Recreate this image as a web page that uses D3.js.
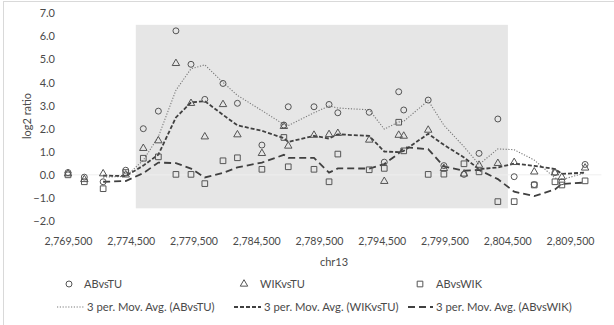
<!DOCTYPE html>
<html>
<head>
<meta charset="utf-8">
<script src="https://cdn.jsdelivr.net/npm/d3@7"></script>
<style>
  html, body { margin: 0; padding: 0; background: #fff; }
  svg { display: block; font-family: Lato, "Open Sans", sans-serif; }
</style>
</head>
<body>
<svg id="chart" width="614" height="325"></svg>
<script>
// Probe positions on chr13 (bp)
const positions = [
  2769500, 2770800, 2772300, 2774100, 2775500, 2776700, 2778100, 2779300,
  2780400, 2781850, 2783000, 2784950, 2786700, 2787050, 2789100, 2790300,
  2791000, 2793500, 2794700, 2795850, 2796250, 2798200, 2799450, 2801050,
  2802250, 2803750, 2805050, 2806650, 2808300, 2808850, 2810700
];

// log2 ratios per comparison
const abVsTu = [
  0.1, -0.1, -0.3, 0.2, 2.0, 2.76, 6.24, 4.79, 3.27, 3.96, 3.1, 1.29,
  2.16, 2.95, 2.95, 3.05, 2.69, 2.71, 0.55, 3.6, 2.81, 3.24, 0.4, 0.02,
  0.93, 2.42, -0.08, -0.42, 0.1, -0.3, 0.45
];
const wikVsTu = [
  0.05, -0.2, 0.05, 0.0, 1.15, 1.48, 4.83, 3.1, 1.65, 3.05, 1.74, 0.93,
  2.1, 1.25, 1.72, 1.75, 1.8, 1.51, -0.28, 1.72, 1.68, 1.94, 0.28, 0.04,
  0.42, 0.5, 0.54, 0.13, 0.09, -0.1, 0.3
];
const abVsWik = [
  0.0, -0.3, -0.6, 0.1, 0.72, 0.78, 0.02, 0.02, -0.38, 0.61, 0.74, 0.24,
  1.62, 0.35, 0.24, -0.3, 0.9, 0.22, 0.28, 2.28, 1.04, 0.02, 0.03, 0.48,
  0.13, -1.16, -1.16, -0.44, -0.3, -0.44, -0.26
];

const seriesNames = ["ABvsTU", "WIKvsTU", "ABvsWIK"];
const xTicks = [2769500, 2774500, 2779500, 2784500, 2789500, 2794500, 2799500, 2804500, 2809500];
const yTicks = [-2, -1, 0, 1, 2, 3, 4, 5, 6, 7];

// Highlighted interval (shaded box)
const regionX = [2774900, 2804550];
const regionY = [-1.45, 6.5];

const movingPeriod = 3;

const svg = d3.select("#chart");
const textColor = "#4a4a4a";
const markColor = "#555555";
const lineDark = "#404040";

const x = d3.scaleLinear().domain([2769500, 2812000]).range([68, 601.4]);
const y = d3.scaleLinear().domain([-2, 7]).range([221, 13.3]);

// chart area border
svg.append("rect")
  .attr("x", 3.5).attr("y", 1.5).attr("width", 640).attr("height", 340)
  .attr("fill", "none").attr("stroke", "#d9d9d9").attr("stroke-width", 1);

// shaded interval
svg.append("rect")
  .attr("x", x(regionX[0])).attr("y", y(regionY[1]))
  .attr("width", x(regionX[1]) - x(regionX[0]))
  .attr("height", y(regionY[0]) - y(regionY[1]))
  .attr("fill", "#e6e6e6");

// horizontal axis line at 0
svg.append("line")
  .attr("x1", x.range()[0]).attr("x2", x.range()[1])
  .attr("y1", y(0)).attr("y2", y(0))
  .attr("stroke", "#efefef").attr("stroke-width", 1);

// y axis labels
const yAxis = d3.axisLeft(y).tickValues(yTicks).tickFormat(d3.format(".1f")).tickSize(0).tickPadding(0);
const gy = svg.append("g").attr("transform", "translate(55,0)").call(yAxis);
gy.select(".domain").remove();
gy.selectAll("text").attr("fill", textColor).style("font-size", "11px").style("font-family", "Lato, sans-serif");

// x axis labels
const xAxis = d3.axisBottom(x).tickValues(xTicks).tickFormat(d3.format(",")).tickSize(0).tickPadding(0);
const gx = svg.append("g").attr("transform", "translate(0,237)").call(xAxis);
gx.select(".domain").remove();
gx.selectAll("text").attr("fill", textColor).style("font-size", "10.6px").style("font-family", "Lato, sans-serif");

// axis titles
svg.append("text")
  .attr("x", 334).attr("y", 266)
  .attr("text-anchor", "middle").attr("fill", textColor)
  .style("font-size", "11px").text("chr13");
svg.append("text")
  .attr("transform", "translate(31,116) rotate(-90)")
  .attr("text-anchor", "middle").attr("fill", textColor)
  .style("font-size", "11px").text("log2 ratio");

// moving averages (trailing window)
function movingAverage(values, n) {
  const out = [];
  for (let i = n - 1; i < values.length; i++) {
    out.push([positions[i], d3.mean(values.slice(i - n + 1, i + 1))]);
  }
  return out;
}

const lineGen = d3.line().x(d => x(d[0])).y(d => y(d[1]));

const trendStyles = [
  { values: abVsTu, stroke: "#7a7a7a", width: 1.1, dash: "1.2,1.6" },
  { values: wikVsTu, stroke: lineDark, width: 1.8, dash: "4,2" },
  { values: abVsWik, stroke: lineDark, width: 1.8, dash: "7,4" }
];

trendStyles.forEach(s => {
  svg.append("path")
    .datum(movingAverage(s.values, movingPeriod))
    .attr("d", lineGen)
    .attr("fill", "none")
    .attr("stroke", s.stroke)
    .attr("stroke-width", s.width)
    .attr("stroke-dasharray", s.dash);
});

// markers
const symbolTypes = [d3.symbolCircle, d3.symbolTriangle, d3.symbolSquare];
const symbolSizes = [28, 24, 32];
const allSeries = [abVsTu, wikVsTu, abVsWik];

allSeries.forEach((vals, k) => {
  const sym = d3.symbol().type(symbolTypes[k]).size(symbolSizes[k]);
  svg.append("g").selectAll("path")
    .data(vals.map((v, i) => [positions[i], v]))
    .join("path")
    .attr("transform", d => `translate(${x(d[0])},${y(d[1])})`)
    .attr("d", sym)
    .attr("fill", "none")
    .attr("stroke", markColor)
    .attr("stroke-width", 1);
});

// legend: markers row
const legendRow1 = [
  { mx: 69, tx: 84 },
  { mx: 244, tx: 260 },
  { mx: 420, tx: 436 }
];
legendRow1.forEach((p, k) => {
  const sym = d3.symbol().type(symbolTypes[k]).size(symbolSizes[k]);
  svg.append("path")
    .attr("transform", `translate(${p.mx},284)`)
    .attr("d", sym)
    .attr("fill", "none").attr("stroke", markColor).attr("stroke-width", 1);
  svg.append("text")
    .attr("x", p.tx).attr("y", 288)
    .attr("fill", textColor).style("font-size", "11px")
    .text(seriesNames[k]);
});

// legend: trendline row
const legendRow2 = [
  { x0: 57, x1: 84, tx: 87 },
  { x0: 234, x1: 261, tx: 264 },
  { x0: 408, x1: 433, tx: 436 }
];
legendRow2.forEach((p, k) => {
  const s = trendStyles[k];
  svg.append("line")
    .attr("x1", p.x0).attr("x2", p.x1).attr("y1", 307).attr("y2", 307)
    .attr("stroke", s.stroke).attr("stroke-width", s.width)
    .attr("stroke-dasharray", s.dash);
  svg.append("text")
    .attr("x", p.tx).attr("y", 311)
    .attr("fill", textColor).style("font-size", "11.3px")
    .text(`${movingPeriod} per. Mov. Avg. (${seriesNames[k]})`);
});
</script>
</body>
</html>
